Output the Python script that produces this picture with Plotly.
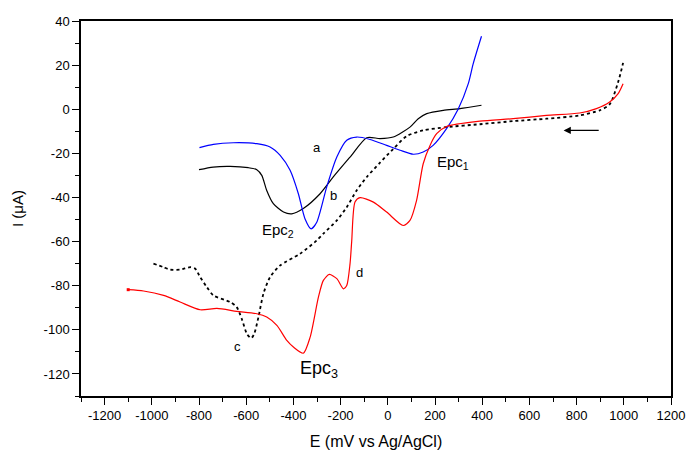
import plotly.graph_objects as go

# Curve a (black solid)
E_a = [-800, -740, -668, -591, -555, -534, -513, -485, -442, -407, -358, -287, -231, -160, -89, -33, 23, 94, 129, 165, 235, 306, 397]
I_a = [-27.4, -26.2, -25.9, -26.5, -27.4, -30.0, -36.8, -42.8, -46.6, -47.4, -45.0, -38.3, -30.7, -21.7, -12.9, -13.3, -12.6, -8.1, -4.3, -2.0, -0.5, 0.3, 1.8]

# Curve b (blue)
E_b = [-798, -739, -654, -555, -499, -456, -414, -379, -351, -325, -301, -259, -216, -174, -132, -75, -5, 52, 108, 150, 192, 249, 298, 341, 362, 397]
I_b = [-17.4, -15.9, -15.2, -15.6, -17.1, -20.9, -27.7, -38.3, -49.6, -54.2, -51.2, -35.3, -21.7, -14.1, -12.6, -13.7, -16.4, -18.6, -20.4, -19.4, -16.4, -8.8, 0.0, 11.6, 20.7, 33.1]

# Curve c (black dotted)
E_c = [-993, -950, -922, -880, -837, -816, -795, -767, -739, -668, -640, -619, -597, -579, -566, -548, -527, -499, -456, -372, -301, -273, -216, -174, -132, -89, -33, 23, 80, 150, 249, 390, 531, 672, 813, 898, 940, 976, 997]
I_c = [-70.0, -71.6, -72.7, -72.7, -71.6, -72.3, -76.1, -80.6, -84.4, -87.4, -89.7, -95.0, -101.8, -103.8, -101.8, -94.2, -83.6, -76.1, -70.8, -65.5, -59.5, -56.4, -50.4, -44.4, -36.8, -30.7, -24.2, -18.0, -12.2, -9.6, -8.1, -6.8, -5.4, -4.3, -2.8, -0.5, 2.2, 12.3, 21.0]

# Curve d (red)
E_d = [-1100, -1035, -950, -880, -795, -724, -640, -555, -513, -470, -428, -400, -358, -329, -294, -273, -248, -216, -188, -174, -160, -153, -139, -118, -61, -5, 65, 94, 122, 150, 179, 207, 249, 390, 531, 672, 813, 884, 940, 976, 997]
I_d = [-81.8, -82.4, -84.4, -87.4, -90.9, -90.3, -91.6, -92.7, -94.2, -98.0, -104.8, -107.8, -110.6, -103.3, -85.2, -77.6, -74.9, -76.8, -81.4, -79.9, -70.0, -60.0, -42.1, -40.1, -42.1, -46.6, -52.7, -50.4, -41.3, -24.7, -16.4, -11.1, -7.8, -5.4, -4.3, -2.8, -1.7, 0.3, 3.3, 7.1, 11.6]

x_ticks = [-1200, -1000, -800, -600, -400, -200, 0, 200, 400, 600, 800, 1000, 1200]
y_ticks = [-120, -100, -80, -60, -40, -20, 0, 20, 40]

FONT = "Liberation Sans, Arial, sans-serif"

fig = go.Figure()
fig.add_trace(go.Scatter(x=E_a, y=I_a, mode="lines", line=dict(color="black", width=1.2, shape="spline", smoothing=0.7)))
fig.add_trace(go.Scatter(x=E_b, y=I_b, mode="lines", line=dict(color="#0000FF", width=1.2, shape="spline", smoothing=0.7)))
fig.add_trace(go.Scatter(x=E_c, y=I_c, mode="lines", line=dict(color="black", width=1.8, dash="dot", shape="spline", smoothing=0.7)))
fig.add_trace(go.Scatter(x=E_d, y=I_d, mode="lines", line=dict(color="#FF0000", width=1.2, shape="spline", smoothing=0.7)))
fig.add_trace(go.Scatter(x=[E_d[0]], y=[I_d[0]], mode="markers", marker=dict(color="#FF0000", size=3, symbol="square")))

axis_common = dict(
    showgrid=False, zeroline=False, showline=True, linecolor="black", linewidth=1.5,
    mirror=True, ticks="outside", ticklen=7, tickwidth=1.2, tickcolor="black",
    tickfont=dict(family=FONT, size=13, color="black"), automargin=False,
)

fig.update_xaxes(
    range=[-1300, 1200], tickvals=x_ticks, ticktext=[str(v) for v in x_ticks],
    minor=dict(dtick=100, tick0=0, ticks="outside", ticklen=4, tickwidth=1.2, tickcolor="black"),
    title=dict(text="E (mV vs Ag/AgCl)", font=dict(family=FONT, size=16, color="black"), standoff=14),
    **axis_common,
)
fig.update_yaxes(
    range=[-130, 40], tickvals=y_ticks, ticktext=[str(v) for v in y_ticks],
    minor=dict(dtick=10, tick0=0, ticks="outside", ticklen=4, tickwidth=1.2, tickcolor="black"),
    title=dict(text="I (\u03bcA)", font=dict(family=FONT, size=15, color="black"), standoff=16),
    **axis_common,
)

def label(x, y, text, size=13):
    fig.add_annotation(x=x, y=y, text=text, showarrow=False, font=dict(family=FONT, size=size, color="black"))

label(-298, -17.5, "a")
label(-228, -39, "b")
label(-637, -107.5, "c")
label(-121, -74, "d")
label(-466, -55, "Epc<sub>2</sub>", 15)
label(275, -24, "Epc<sub>1</sub>", 15)
label(-290, -118, "Epc<sub>3</sub>", 18)

fig.add_annotation(x=745, y=-9.6, ax=900, ay=-9.6, axref="x", ayref="y", xref="x", yref="y",
                   text="", showarrow=True, arrowhead=2, arrowsize=1.2, arrowwidth=1.2, arrowcolor="black")

fig.update_layout(
    width=691, height=450, showlegend=False,
    margin=dict(l=81, r=20, t=21, b=54),
    paper_bgcolor="white", plot_bgcolor="white",
    font=dict(family=FONT, color="black"),
)

fig.write_html("out.html")
